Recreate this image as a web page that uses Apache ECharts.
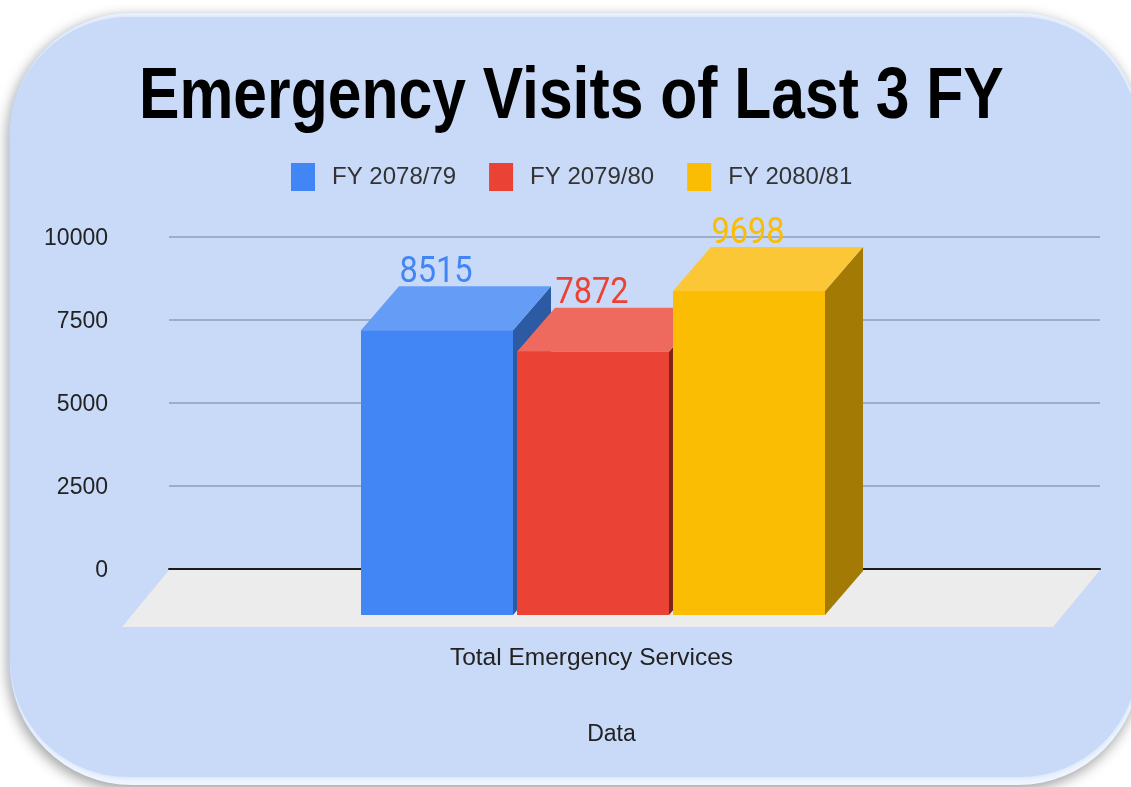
<!DOCTYPE html>
<html>
<head>
<meta charset="utf-8">
<title>Emergency Visits of Last 3 FY</title>
<script src="https://cdn.jsdelivr.net/npm/echarts@6/dist/echarts.min.js"></script>
<style>
  html, body { margin: 0; padding: 0; background: #fff; }
  #chart { width: 1131px; height: 787px; }
</style>
</head>
<body>
<div id="chart"></div>
<script>
var chartTitle = 'Emergency Visits of Last 3 FY';
var categories = ['Total Emergency Services'];
var seriesNames = ['FY 2078/79', 'FY 2079/80', 'FY 2080/81'];
var visits7879 = [8515];
var visits7980 = [7872];
var visits8081 = [9698];
var yTicks = [0, 2500, 5000, 7500, 10000];

// 3D look: the axis is the back wall, the front face is pushed by this much
var DEPTH_X = 38;
var DEPTH_Y = 44;
var BAR_W = 152;
var BAR_STEP = 156;

function boxSeries(name, values, slot, front, top, side) {
    return {
        name: name,
        type: 'custom',
        z: 3,
        itemStyle: { color: front },
        data: values.map(function (v, i) { return [i, v]; }),
        encode: { x: 0, y: 1 },
        renderItem: function (params, api) {
            var back = api.coord([api.value(0), api.value(1)]);
            var base = api.coord([api.value(0), 0]);
            var bx = back[0] - 79.5 + slot * BAR_STEP; // back left corner
            var by = back[1];
            var fx = bx - DEPTH_X;
            var fy = by + DEPTH_Y;
            var bottom = base[1] + DEPTH_Y + 2;
            return {
                type: 'group',
                children: [
                    {
                        type: 'polygon',
                        shape: { points: [[fx + BAR_W, fy], [bx + BAR_W, by], [bx + BAR_W, bottom - DEPTH_Y], [fx + BAR_W, bottom]] },
                        style: { fill: side }
                    },
                    {
                        type: 'polygon',
                        shape: { points: [[fx, fy], [bx, by], [bx + BAR_W, by], [fx + BAR_W, fy]] },
                        style: { fill: top }
                    },
                    {
                        type: 'rect',
                        shape: { x: fx, y: fy, width: BAR_W, height: bottom - fy },
                        style: { fill: front }
                    },
                    {
                        type: 'text',
                        x: fx + BAR_W / 2 - 1,
                        y: by + 5,
                        scaleX: 0.88,
                        z2: 10,
                        style: {
                            text: String(api.value(1)),
                            fill: front,
                            font: '37px Roboto',
                            align: 'center',
                            verticalAlign: 'bottom'
                        }
                    }
                ]
            };
        }
    };
}

// light floor under the bars
var floorSeries = {
    type: 'custom',
    name: 'floor',
    z: 1,
    silent: true,
    data: [[0, 0]],
    encode: { x: 0, y: 1 },
    renderItem: function (params, api) {
        var y = api.coord([0, 0])[1] + 1;
        var left = params.coordSys.x;
        var right = left + params.coordSys.width;
        var dx = 47, dy = 57;
        return {
            type: 'polygon',
            shape: { points: [[left, y], [right, y], [right - dx, y + dy], [left - dx, y + dy]] },
            style: { fill: '#ececec' }
        };
    }
};

var myChart = echarts.init(document.getElementById('chart'));

var option = {
    animation: false,
    backgroundColor: '#ffffff',
    graphic: [
        {
            type: 'rect',
            z: -10,
            shape: { x: 10, y: 13, width: 1130, height: 772, r: 122 },
            style: { fill: '#f0f6ff', shadowBlur: 14, shadowColor: 'rgba(0,0,0,0.4)', shadowOffsetX: -2, shadowOffsetY: 4 }
        },
        {
            type: 'rect',
            z: -9,
            shape: { x: 10, y: 17, width: 1128, height: 760, r: 118 },
            style: { fill: '#c9daf8', shadowBlur: 6, shadowColor: '#c9daf8' }
        },
        {
            type: 'text',
            z: 5,
            x: 139,
            y: 62,
            scaleX: 0.842,
            style: {
                text: chartTitle,
                font: 'bold 72px "Liberation Sans"',
                fill: '#000000',
                align: 'left',
                verticalAlign: 'top'
            }
        }
    ],
    legend: {
        data: seriesNames,
        left: 291,
        top: 163,
        padding: 0,
        icon: 'rect',
        itemWidth: 24,
        itemHeight: 28,
        itemGap: 33,
        textStyle: {
            fontFamily: '"Liberation Sans"',
            fontSize: 24,
            color: '#333333',
            padding: [4, 0, 0, 12]
        }
    },
    grid: { left: 169, width: 931, top: 237, height: 332 },
    xAxis: {
        type: 'category',
        data: categories,
        name: 'Data',
        nameLocation: 'middle',
        nameGap: 154,
        nameTextStyle: {
            fontFamily: '"Liberation Sans"',
            fontSize: 23,
            color: '#222222',
            padding: [0, 46, 0, 0]
        },
        axisTick: { show: false },
        axisLine: { lineStyle: { color: '#1a1a1a', width: 2 } },
        axisLabel: {
            margin: 77,
            fontFamily: '"Liberation Sans"',
            fontSize: 24.5,
            color: '#222222',
            padding: [0, 86, 0, 0]
        }
    },
    yAxis: {
        type: 'value',
        min: yTicks[0],
        max: yTicks[yTicks.length - 1],
        interval: yTicks[1] - yTicks[0],
        axisLine: { show: false },
        axisTick: { show: false },
        axisLabel: {
            margin: 61,
            color: '#222222',
            formatter: function (v) { return '{v|' + v + '}'; },
            rich: {
                v: {
                    fontFamily: '"Liberation Sans"',
                    fontSize: 23,
                    color: '#222222',
                    padding: [4, 0, 0, 0]
                }
            }
        },
        splitLine: { show: true, lineStyle: { color: '#9dadc6', width: 2 } }
    },
    series: [
        floorSeries,
        boxSeries(seriesNames[0], visits7879, -1, '#4285f4', '#659cf6', '#2c5aa3'),
        boxSeries(seriesNames[1], visits7980, 0, '#ea4335', '#ee6a5e', '#7d241c'),
        boxSeries(seriesNames[2], visits8081, 1, '#fbbc04', '#fbc736', '#a37a03')
    ]
};

myChart.setOption(option);
</script>
</body>
</html>
